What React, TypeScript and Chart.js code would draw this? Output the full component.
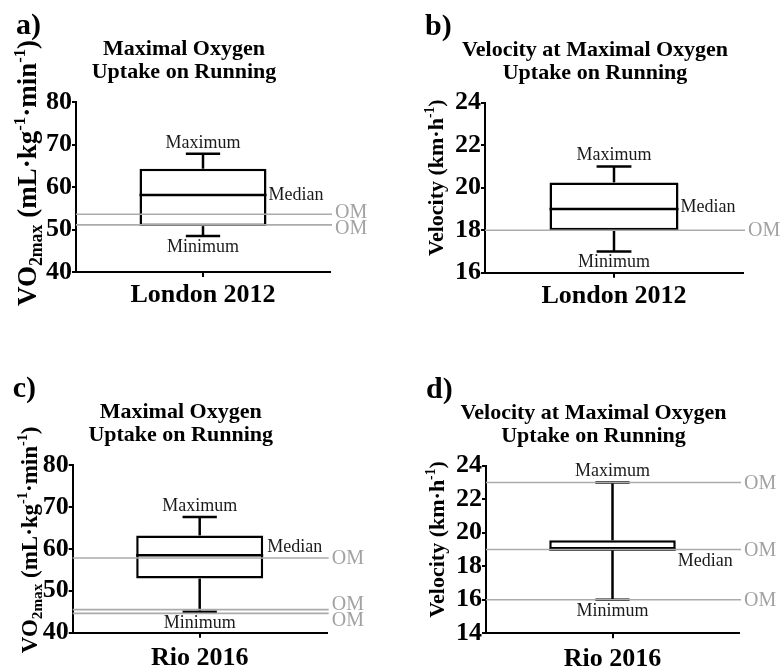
import React, { useEffect, useRef } from "react";
import { Chart, registerables } from "chart.js";

Chart.register(...registerables);

// ---------- DATA ----------
const categories = ["London 2012", "Rio 2016"];
// [minimum, q1, median, q3, maximum]
const vo2LondonStats = [48.5, 50.8, 58.1, 64.3, 67.8];
const velLondonStats = [17.0, 18.0, 19.0, 20.25, 21.0];
const vo2RioStats = [45.0, 52.9, 58.5, 63.2, 67.6];
const velRioStats = [16.0, 19.0, 19.0, 19.55, 23.0];
// Olympic medallists (OM) reference values
const omVo2London = [53.6, 51.1];
const omVelLondon = [18.0];
const omVo2Rio = [57.8, 45.5, 44.6];
const omVelRio = [23.0, 19.0, 16.0];
// tick labels
const vo2Ticks = [40, 50, 60, 70, 80];
const velLondonTicks = [16, 18, 20, 22, 24];
const velRioTicks = [14, 16, 18, 20, 22, 24];
// texts
const titleVo2 = ["Maximal Oxygen", "Uptake on Running"];
const titleVel = ["Velocity at Maximal Oxygen", "Uptake on Running"];
const panelLetters = ["a)", "b)", "c)", "d)"];
const statLabels = ["Maximum", "Median", "Minimum"];
const omLabel = "OM";

// ---------- STYLE ----------
const SERIF = '"Liberation Serif", "Times New Roman", serif';

type Seg = { text: string; scale?: number; shift?: number };
const yTitleVo2: Seg[] = [
  { text: "VO" },
  { text: "2max", scale: 0.66, shift: 0.22 },
  { text: " (mL·kg" },
  { text: "-1", scale: 0.62, shift: -0.42 },
  { text: "·min" },
  { text: "-1", scale: 0.62, shift: -0.42 },
  { text: ")" },
];
const yTitleVel: Seg[] = [
  { text: "Velocity (km·h" },
  { text: "-1", scale: 0.62, shift: -0.42 },
  { text: ")" },
];

type PanelCfg = {
  letter: string;
  title: string[];
  yTitle: Seg[];
  yTitleSize: number;
  yTitleDx: number;
  yTitleDy: number;
  stats: number[];
  om: number[];
  ticks: number[];
  category: string;
  left: number;
  top: number;
  w: number;
  h: number;
  area: { l: number; t: number; r: number; b: number };
  medianDx: number;
  medianDy: number;
  xPad: number;
};

const panels: PanelCfg[] = [
  {
    letter: panelLetters[0], title: titleVo2, yTitle: yTitleVo2, yTitleSize: 27, yTitleDx: -40, yTitleDy: -14,
    stats: vo2LondonStats, om: omVo2London, ticks: vo2Ticks, category: categories[0],
    left: 0, top: 0, w: 391, h: 330, area: { l: 76, t: 102, r: 330, b: 272 },
    medianDx: 2, medianDy: 5, xPad: 3,
  },
  {
    letter: panelLetters[1], title: titleVel, yTitle: yTitleVel, yTitleSize: 22, yTitleDx: -42, yTitleDy: -10,
    stats: velLondonStats, om: omVelLondon, ticks: velLondonTicks, category: categories[0],
    left: 391, top: 0, w: 391, h: 330, area: { l: 94, t: 102.7, r: 352, b: 272.7 },
    medianDx: 2, medianDy: 3, xPad: 3,
  },
  {
    letter: panelLetters[2], title: titleVo2, yTitle: yTitleVo2, yTitleSize: 23, yTitleDx: -36, yTitleDy: -9,
    stats: vo2RioStats, om: omVo2Rio, ticks: vo2Ticks, category: categories[1],
    left: 0, top: 330, w: 391, h: 340, area: { l: 72.7, t: 135, r: 326.7, b: 302.7 },
    medianDx: 4, medianDy: -3, xPad: 5,
  },
  {
    letter: panelLetters[3], title: titleVel, yTitle: yTitleVel, yTitleSize: 22, yTitleDx: -42, yTitleDy: -10,
    stats: velRioStats, om: omVelRio, ticks: velRioTicks, category: categories[1],
    left: 391, top: 330, w: 391, h: 340, area: { l: 95, t: 135.7, r: 348, b: 303.3 },
    medianDx: 2, medianDy: 16, xPad: 5,
  },
];

function hLine(ctx: CanvasRenderingContext2D, x1: number, x2: number, y: number) {
  ctx.beginPath();
  ctx.moveTo(x1, y);
  ctx.lineTo(x2, y);
  ctx.stroke();
}
function vLine(ctx: CanvasRenderingContext2D, x: number, y1: number, y2: number) {
  ctx.beginPath();
  ctx.moveTo(x, y1);
  ctx.lineTo(x, y2);
  ctx.stroke();
}

function drawRotatedRich(ctx: CanvasRenderingContext2D, segs: Seg[], size: number, baseX: number, cy: number) {
  ctx.save();
  ctx.translate(baseX, cy);
  ctx.rotate(-Math.PI / 2);
  ctx.textAlign = "left";
  ctx.textBaseline = "alphabetic";
  ctx.fillStyle = "#000";
  let total = 0;
  const parts = segs.map((s) => {
    const fs = size * (s.scale || 1);
    const font = `bold ${fs}px ${SERIF}`;
    ctx.font = font;
    const w = ctx.measureText(s.text).width;
    total += w;
    return { ...s, font, w };
  });
  let x = -total / 2;
  for (const p of parts) {
    ctx.font = p.font;
    ctx.fillText(p.text, x, (p.shift || 0) * size);
    x += p.w;
  }
  ctx.restore();
}

const boxDecor = {
  id: "boxDecor",
  afterDatasetsDraw(chart: any, _args: any, opts: any) {
    const cfg: PanelCfg = opts.cfg;
    if (!cfg) return;
    const ctx: CanvasRenderingContext2D = chart.ctx;
    const area = chart.chartArea;
    const ys = chart.scales.y;
    const bar: any = chart.getDatasetMeta(0).data[0];
    const [mn, , med, , mx] = cfg.stats;
    const q1 = cfg.stats[1];
    const q3 = cfg.stats[3];
    const cx = bar.x;
    const half = bar.width / 2;
    const capHalf = bar.width * 0.135;
    const py = (v: number) => ys.getPixelForValue(v);

    ctx.save();
    ctx.strokeStyle = "#000";
    ctx.lineWidth = 2.5;
    ctx.lineCap = "butt";
    // median
    hLine(ctx, cx - half, cx + half, py(med));
    // whiskers
    vLine(ctx, cx, py(q3), py(mx));
    hLine(ctx, cx - capHalf, cx + capHalf, py(mx));
    vLine(ctx, cx, py(q1), py(mn));
    hLine(ctx, cx - capHalf, cx + capHalf, py(mn));

    // OM reference lines
    ctx.strokeStyle = "#ababab";
    ctx.lineWidth = 1.6;
    const omY = cfg.om.map((v) => py(v));
    omY.forEach((y) => hLine(ctx, area.left, area.right + 2, y));

    // OM labels with simple collision avoidance
    const lab = omY.map((y) => y).sort((a, b) => a - b);
    const gap = 16;
    for (let it = 0; it < 20; it++) {
      for (let i = 1; i < lab.length; i++) {
        const d = lab[i] - lab[i - 1];
        if (d < gap) {
          const push = (gap - d) / 2;
          lab[i - 1] -= push;
          lab[i] += push;
        }
      }
    }
    ctx.fillStyle = "#a2a2a2";
    ctx.font = `20px ${SERIF}`;
    ctx.textAlign = "left";
    ctx.textBaseline = "middle";
    lab.forEach((y) => ctx.fillText(omLabel, area.right + 5, y + 1));

    // stat labels
    ctx.fillStyle = "#1a1a1a";
    ctx.font = `18px ${SERIF}`;
    ctx.textAlign = "center";
    ctx.textBaseline = "alphabetic";
    ctx.fillText(statLabels[0], cx, py(mx) - 6);
    ctx.fillText(statLabels[2], cx, py(mn) + 16);
    ctx.textAlign = "left";
    ctx.fillText(statLabels[1], cx + half + cfg.medianDx, py(med) + cfg.medianDy);

    // panel title
    const tcx = (area.left + area.right) / 2 - 19;
    ctx.fillStyle = "#000";
    ctx.font = `bold 22px ${SERIF}`;
    ctx.textAlign = "center";
    ctx.fillText(cfg.title[0], tcx, area.top - 47);
    ctx.fillText(cfg.title[1], tcx, area.top - 24);

    // panel letter
    ctx.font = `bold 30px ${SERIF}`;
    ctx.textAlign = "left";
    ctx.fillText(cfg.letter, area.left - 60, area.top - 68);

    // y-axis title
    drawRotatedRich(ctx, cfg.yTitle, cfg.yTitleSize, area.left + cfg.yTitleDx, (area.top + area.bottom) / 2 + cfg.yTitleDy);
    ctx.restore();
  },
};

function makeConfig(cfg: PanelCfg): any {
  const a = cfg.area;
  const xHeight = 40;
  const tickFont = { family: SERIF, size: 26, weight: "bold" as const };
  return {
    type: "bar",
    data: {
      labels: [cfg.category],
      datasets: [
        {
          data: [[cfg.stats[1], cfg.stats[3]]],
          backgroundColor: "#ffffff",
          borderColor: "#000000",
          borderWidth: 2.5,
          borderSkipped: false,
          barPercentage: 0.5,
          categoryPercentage: 1,
        },
      ],
    },
    options: {
      animation: false,
      responsive: false,
      events: [],
      layout: {
        padding: { top: a.t, left: 0, right: cfg.w - a.r, bottom: cfg.h - a.b - xHeight },
      },
      plugins: {
        legend: { display: false },
        tooltip: { enabled: false },
        title: { display: false },
        boxDecor: { cfg },
      },
      scales: {
        x: {
          type: "category",
          offset: true,
          grid: { display: true, drawOnChartArea: false, drawTicks: true, tickLength: 5, color: "#000", lineWidth: 2, offset: false },
          border: { display: true, color: "#000", width: 2 },
          ticks: { font: tickFont, color: "#000", padding: cfg.xPad, maxRotation: 0, autoSkip: false },
          afterFit: (s: any) => {
            s.height = xHeight;
          },
        },
        y: {
          type: "linear",
          min: cfg.ticks[0],
          max: cfg.ticks[cfg.ticks.length - 1],
          afterBuildTicks: (s: any) => {
            s.ticks = cfg.ticks.map((v) => ({ value: v }));
          },
          grid: { display: true, drawOnChartArea: false, drawTicks: true, tickLength: 4, color: "#000", lineWidth: 2 },
          border: { display: true, color: "#000", width: 2 },
          ticks: { font: tickFont, color: "#000", padding: 0, autoSkip: false },
          afterFit: (s: any) => {
            s.width = a.l;
          },
        },
      },
    },
    plugins: [boxDecor],
  };
}

function Panel({ cfg }: { cfg: PanelCfg }) {
  const ref = useRef<HTMLCanvasElement | null>(null);
  useEffect(() => {
    if (!ref.current) return;
    const chart = new Chart(ref.current, makeConfig(cfg));
    return () => chart.destroy();
  }, [cfg]);
  return (
    <canvas
      ref={ref}
      width={cfg.w}
      height={cfg.h}
      style={{ position: "absolute", left: cfg.left, top: cfg.top, width: cfg.w, height: cfg.h }}
    />
  );
}

export default function App() {
  return (
    <div style={{ position: "absolute", left: 0, top: 0, width: 782, height: 670, background: "#fff", overflow: "hidden" }}>
      {panels.map((p, i) => (
        <Panel key={i} cfg={p} />
      ))}
    </div>
  );
}
